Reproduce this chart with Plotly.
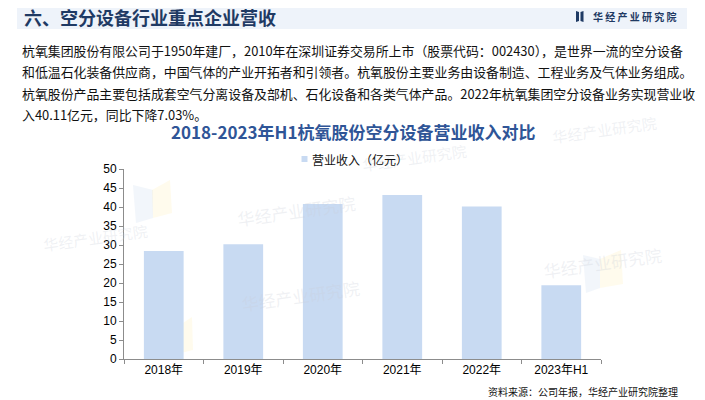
import plotly.graph_objects as go

# ---------------- data ----------------
categories = ["2018年", "2019年", "2020年", "2021年", "2022年", "2023年H1"]
revenue = [28.4, 30.2, 40.8, 43.14, 40.11, 19.4]
y_tick_vals = [0, 5, 10, 15, 20, 25, 30, 35, 40, 45, 50]
series_name = "营业收入（亿元）"

header_title = "六、空分设备行业重点企业营收"
brand = "华 经 产 业 研 究 院"
paragraph = [
    "杭氧集团股份有限公司于1950年建厂，2010年在深圳证券交易所上市（股票代码：002430），是世界一流的空分设备",
    "和低温石化装备供应商，中国气体的产业开拓者和引领者。杭氧股份主要业务由设备制造、工程业务及气体业务组成。",
    "杭氧股份产品主要包括成套空气分离设备及部机、石化设备和各类气体产品。2022年杭氧集团空分设备业务实现营业收",
    "入40.11亿元，同比下降7.03%。",
]
chart_title = "2018-2023年H1杭氧股份空分设备营业收入对比"
source_text = "资料来源：公司年报，华经产业研究院整理"

# ---------------- style ----------------
# The page body has an 8px margin, so the figure is laid out in window pixels
# and shrunk by that offset.
OFF = 8
WIN_W, WIN_H = 705, 400
PL, PR, PT, PB = 124, 601, 169, 359          # plot area in window pixels
W, H = WIN_W - OFF, WIN_H - OFF
BAR = "#C8DAF2"
AXIS = "#8C8C8C"
CJK = "Noto Sans CJK SC"
NUM = "Liberation Sans, Noto Sans CJK SC"


def px(x):
    return (x - PL) / (PR - PL)


def py(y):
    return (PB - y) / (PB - PT)


fig = go.Figure()
fig.add_trace(go.Bar(x=categories, y=revenue, name=series_name,
                     marker=dict(color=BAR, line=dict(width=0)),
                     showlegend=False, hoverinfo="x+y"))

shapes = []
annotations = []


def quad(pts, color):
    path = "M" + " L".join(f"{px(a)},{py(b)}" for a, b in pts) + " Z"
    shapes.append(dict(type="path", xref="paper", yref="paper", path=path,
                       fillcolor=color, line=dict(width=0), layer="below"))


# header band
shapes.append(dict(type="rect", xref="paper", yref="paper", x0=px(17), x1=px(687),
                   y0=py(29), y1=py(4), fillcolor="#EEF3FA", line=dict(width=0), layer="below"))
# brand icon
quad([(576, 11), (579, 12), (579, 21), (576, 22)], "#1F3A64")
quad([(580.5, 12), (583.5, 11), (583.5, 22), (580.5, 21)], "#1F3A64")

annotations.append(dict(text=f"<b>{header_title}</b>", x=px(22), y=py(16.5), xref="paper", yref="paper",
                        xanchor="left", yanchor="middle", showarrow=False,
                        font=dict(family=CJK, size=18, color="#1F3A64")))
annotations.append(dict(text=f"<b>{brand}</b>", x=px(591), y=py(16.5), xref="paper", yref="paper",
                        xanchor="left", yanchor="middle", showarrow=False,
                        font=dict(family=CJK, size=10, color="#1F3A64")))

# watermarks (faint)
wm_blue = "rgba(205,218,240,0.25)"
wm_yellow = "rgba(255,240,190,0.28)"
quad([(133, 185), (153, 190), (153, 218), (136, 223)], wm_blue)
quad([(152, 190), (170, 180), (172, 213), (153, 218)], wm_yellow)
quad([(583, 255), (600, 259), (600, 288), (586, 293)], wm_blue)
quad([(600, 259), (621, 250), (623, 284), (600, 288)], wm_yellow)
quad([(180, 325), (192, 317), (193, 350), (181, 353)], wm_yellow)

wm_color = "rgba(200,205,215,0.28)"
for (wx, wy, sz) in [(234, 188, 17), (300, 318, 17), (665, 262, 17), (40, 218, 15),
                     (470, 138, 15), (660, 110, 15)]:
    annotations.append(dict(text="华经产业研究院", x=px(wx), y=py(wy), xref="paper", yref="paper",
                            showarrow=False, textangle=-8,
                            font=dict(family=CJK, size=sz, color=wm_color)))

# paragraph
for i, line in enumerate(paragraph):
    annotations.append(dict(text=line, x=px(20), y=py(50 + i * 21.5), xref="paper", yref="paper",
                            xanchor="left", yanchor="middle", showarrow=False,
                            font=dict(family=CJK, size=12.9, color="#111111")))

# chart title
annotations.append(dict(text=f"<b>{chart_title}</b>", x=px(353), y=py(131), xref="paper", yref="paper",
                        xanchor="center", yanchor="middle", showarrow=False,
                        font=dict(family=CJK, size=17, color="#2F5597")))

# legend (square + label)
shapes.append(dict(type="rect", xref="paper", yref="paper", x0=px(301.5), x1=px(307.5),
                   y0=py(162), y1=py(156), fillcolor=BAR, line=dict(width=0)))
annotations.append(dict(text=series_name, x=px(310), y=py(159), xref="paper", yref="paper",
                        xanchor="left", yanchor="middle", showarrow=False,
                        font=dict(family=CJK, size=12, color="#111111")))

# source
annotations.append(dict(text=source_text, x=px(680), y=py(391), xref="paper", yref="paper",
                        xanchor="right", yanchor="middle", showarrow=False,
                        font=dict(family=CJK, size=10, color="#111111")))

fig.update_layout(
    width=W, height=H,
    margin=dict(l=PL - OFF, r=WIN_W - PR, t=PT - OFF, b=WIN_H - PB, pad=0, autoexpand=False),
    paper_bgcolor="white", plot_bgcolor="white",
    bargap=0.5,
    font=dict(family=NUM, size=12, color="#000000"),
    showlegend=False,
    xaxis=dict(type="category", range=[-0.5, len(categories) - 0.5], showline=True, linecolor=AXIS,
               linewidth=1, ticks="outside", tickson="boundaries", ticklen=4, tickcolor=AXIS,
               showgrid=False, zeroline=False, tickfont=dict(family=NUM, size=12, color="#000"),
               fixedrange=True),
    yaxis=dict(range=[0, 50], tickvals=y_tick_vals, showline=True, linecolor=AXIS, linewidth=1,
               ticks="outside", ticklen=4, tickcolor=AXIS, showgrid=False, zeroline=False,
               tickfont=dict(family=NUM, size=12, color="#000"), fixedrange=True),
    shapes=shapes,
    annotations=annotations,
)

fig.write_html("out.html")
